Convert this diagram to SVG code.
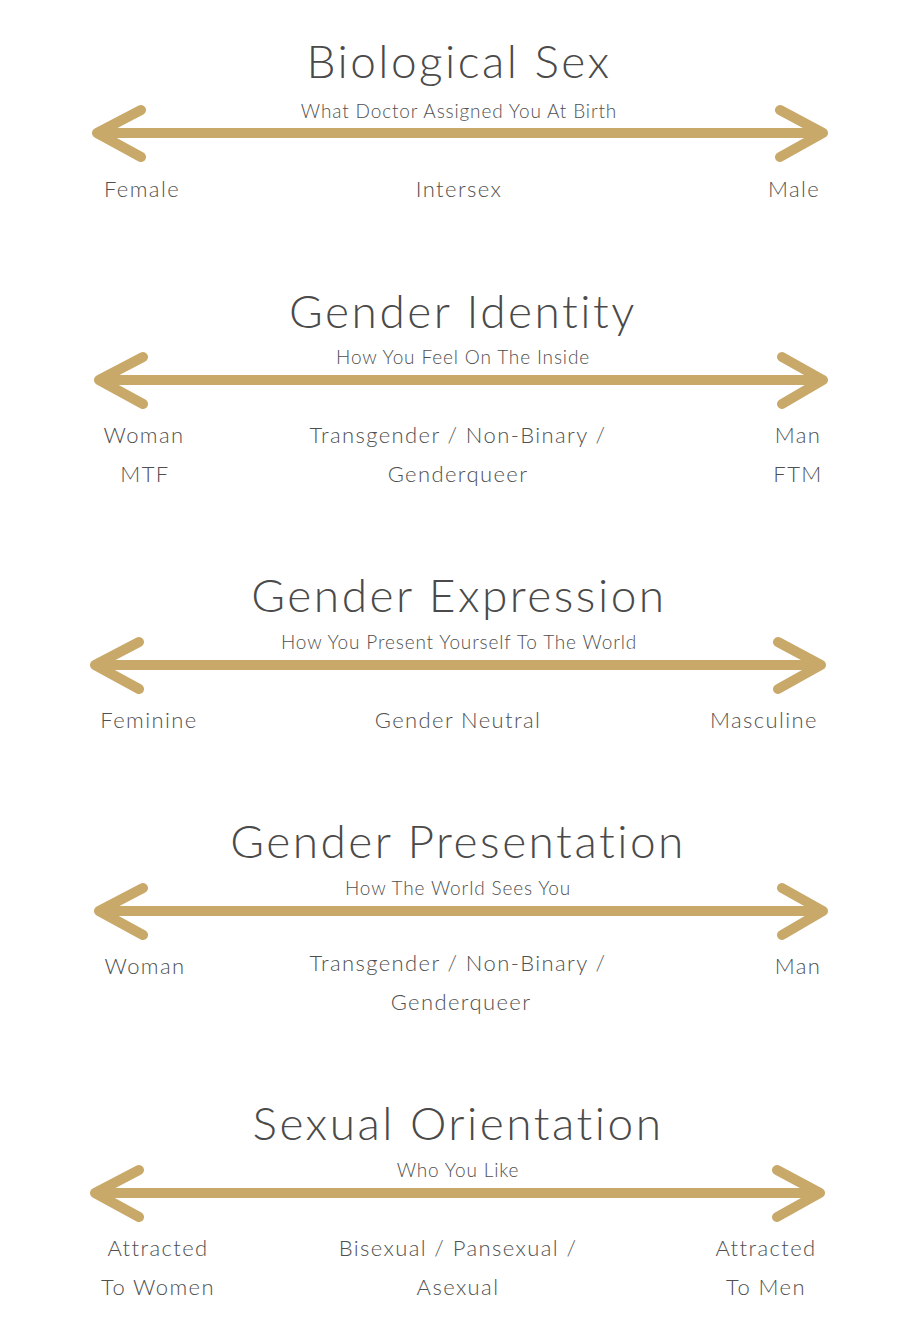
<svg xmlns="http://www.w3.org/2000/svg" width="916" height="1326" viewBox="0 0 916 1326">
<style>
.t{font-family:Lato,"Noto Sans",sans-serif;fill:#505050;text-anchor:middle;font-weight:300}
.h{font-size:46px;letter-spacing:2.5px;fill:#4a4a4a}
.s{font-size:19px;letter-spacing:0.85px}
.l{font-size:22px;letter-spacing:1.4px}
.a{fill:none;stroke:#C9A96A;stroke-width:10;stroke-linecap:round;stroke-linejoin:round}
</style>
<rect width="916" height="1326" fill="#fff"/>
<g id="connectors">
<g id="arrow-bio"><path class="a" d="M97 133H823M141 110L97 133L141 157M780 110L823 133L780 157"/></g>
<g id="arrow-identity"><path class="a" d="M99 380H823M143 357L99 380L143 404M782 357L823 380L782 404"/></g>
<g id="arrow-expression"><path class="a" d="M95 665H821M139 642L95 665L139 689M778 642L821 665L778 689"/></g>
<g id="arrow-presentation"><path class="a" d="M99 911H823M143 888L99 911L143 935M782 888L823 911L782 935"/></g>
<g id="arrow-orientation"><path class="a" d="M95 1193H820M139 1170L95 1193L139 1217M777 1170L820 1193L777 1217"/></g>
</g>
<g id="biological-sex">
<text class="t h" x="459" y="78">Biological Sex</text>
<text class="t s" x="459" y="118">What Doctor Assigned You At Birth</text>
<text class="t l" x="142" y="197">Female</text>
<text class="t l" x="459" y="197">Intersex</text>
<text class="t l" x="794" y="197">Male</text>
</g>
<g id="gender-identity">
<text class="t h" x="463" y="328">Gender Identity</text>
<text class="t s" x="463" y="364">How You Feel On The Inside</text>
<text class="t l" x="144" y="443">Woman</text>
<text class="t l" x="145" y="482">MTF</text>
<text class="t l" x="458" y="443">Transgender / Non-Binary /</text>
<text class="t l" x="458" y="482">Genderqueer</text>
<text class="t l" x="798" y="443">Man</text>
<text class="t l" x="798" y="482">FTM</text>
</g>
<g id="gender-expression">
<text class="t h" x="459" y="612">Gender Expression</text>
<text class="t s" x="459" y="649">How You Present Yourself To The World</text>
<text class="t l" x="149" y="728">Feminine</text>
<text class="t l" x="458" y="728">Gender Neutral</text>
<text class="t l" x="764" y="728">Masculine</text>
</g>
<g id="gender-presentation">
<text class="t h" x="458" y="858">Gender Presentation</text>
<text class="t s" x="458" y="895">How The World Sees You</text>
<text class="t l" x="145" y="974">Woman</text>
<text class="t l" x="458" y="971">Transgender / Non-Binary /</text>
<text class="t l" x="461" y="1010">Genderqueer</text>
<text class="t l" x="798" y="974">Man</text>
</g>
<g id="sexual-orientation">
<text class="t h" x="458" y="1140">Sexual Orientation</text>
<text class="t s" x="458" y="1177">Who You Like</text>
<text class="t l" x="158" y="1256">Attracted</text>
<text class="t l" x="158" y="1295">To Women</text>
<text class="t l" x="458" y="1256">Bisexual / Pansexual /</text>
<text class="t l" x="458" y="1295">Asexual</text>
<text class="t l" x="766" y="1256">Attracted</text>
<text class="t l" x="766" y="1295">To Men</text>
</g>
</svg>
